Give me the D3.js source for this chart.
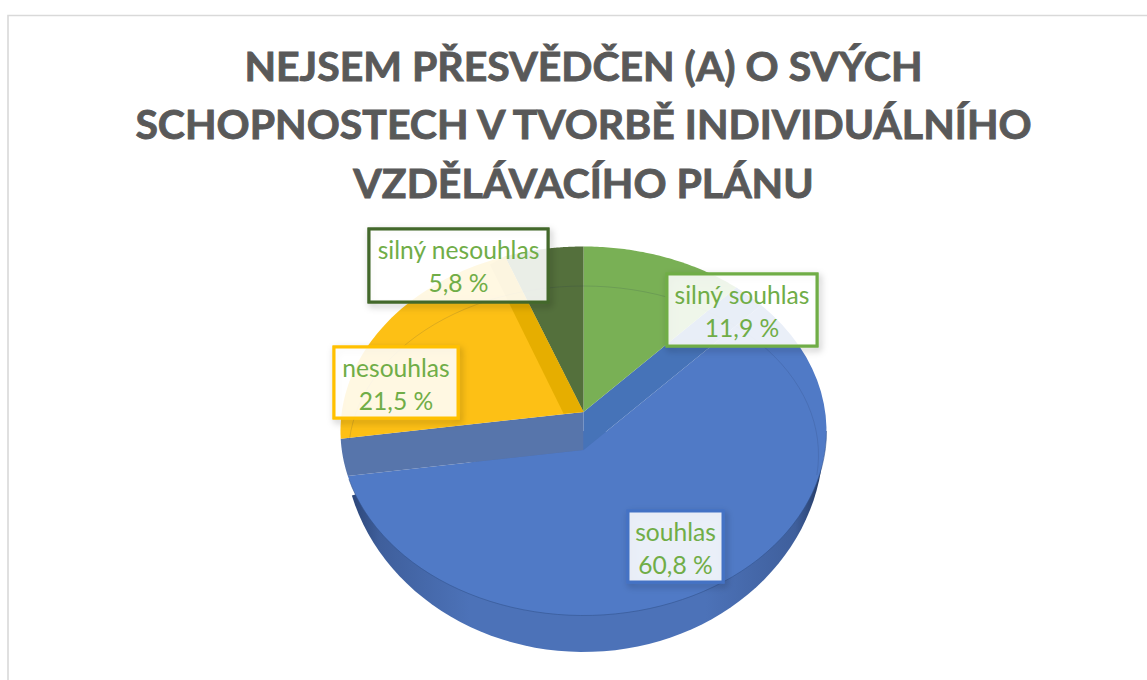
<!DOCTYPE html>
<html lang="cs">
<head>
    <meta charset="UTF-8">
    <title>Nejsem přesvědčen (a)</title>
    <script src="https://d3js.org/d3.v7.min.js"></script>
    <style>
        html, body { margin: 0; background: #fff; }
        svg { display: block; }
        text { font-family: Lato, "Open Sans", sans-serif; }
        .title { font-size: 41px; font-weight: 700; fill: #595959; stroke: #595959; stroke-width: 0.9px; text-anchor: middle; }
        .label { font-size: 24.6px; fill: #70ad47; text-anchor: middle; }
    </style>
</head>
<body>
    <div id="chart"></div>
    <script>
        const titleLines = ["NEJSEM PŘESVĚDČEN (A) O SVÝCH", "SCHOPNOSTECH V TVORBĚ INDIVIDUÁLNÍHO", "VZDĚLÁVACÍHO PLÁNU"];
        const categories = ["silný souhlas", "souhlas", "nesouhlas", "silný nesouhlas"];
        const values = [11.9, 60.8, 21.5, 5.8];

        const sliceColors = ["#79b055", "#507ac6", "#fdc015", "#54703c"];
        const borderColors = ["#70ad47", "#4472c4", "#ffc000", "#43682b"];
        // label boxes, placed by hand: x0, y0, x1, y1
        const labelBoxes = [[667, 274, 817, 346], [628, 511, 723, 582], [334, 347, 458, 418], [369, 229, 548, 302]];

        const width = 1147, height = 680;
        const svg = d3.select("#chart").append("svg").attr("width", width).attr("height", height);

        const defs = svg.append("defs");
        const wallGradient = defs.append("linearGradient").attr("id", "wall");
        [[0, "#2c4678"], [0.06, "#3f5f9c"], [0.25, "#4c72b8"], [0.75, "#4c72b8"], [0.94, "#3f5f9c"], [1, "#22365e"]]
            .forEach(s => wallGradient.append("stop").attr("offset", s[0]).attr("stop-color", s[1]));
        const shadow = defs.append("filter").attr("id", "shadow")
            .attr("x", "-20%").attr("y", "-20%").attr("width", "140%").attr("height", "150%");
        shadow.append("feDropShadow").attr("dx", 2).attr("dy", 3).attr("stdDeviation", 3.5)
            .attr("flood-color", "#000").attr("flood-opacity", 0.3);

        // chart frame
        svg.append("path").attr("d", `M8,${height}V15.5H${width}`)
            .attr("fill", "none").attr("stroke", "#d9d9d9").attr("stroke-width", 1.6);

        svg.selectAll(".title").data(titleLines).join("text")
            .attr("class", "title")
            .attr("x", 583.5)
            .attr("y", (d, i) => 80.7 + i * 58.5)
            .text(d => d);

        const slices = d3.pie().sort(null).value(d => d)(values);

        // circle seen in perspective: an ellipse whose pie centre sits off its middle
        const cx = 583.5, cy = 431, rx = 243, ry = 184.5;
        const upper = 19 / ry, lower = -19 / ry;

        function project(angle, k, e) {
            e = e || { cx, cy, rx, ry };
            const u = Math.sin(angle), v = Math.cos(angle), q = 1 + k * v;
            return [e.cx + e.rx * Math.sqrt(1 - k * k) * u / q, e.cy - e.ry * (v + k) / q];
        }

        const line = d3.line();
        function rimPoints(a0, a1, k, e) {
            return d3.range(0, 61).map(i => project(a0 + (a1 - a0) * i / 60, k, e));
        }
        function apex(k) {
            return [cx, cy - ry * k];
        }
        function sectorPath(a0, a1, k) {
            return line([apex(k), ...rimPoints(a0, a1, k)]) + "Z";
        }
        // rim angle (plain ellipse) of a projected point
        function rimAngle(p) {
            return Math.atan2((p[0] - cx) / rx, (cy - p[1]) / ry);
        }
        function rimBetween(p0, p1) {
            const a0 = rimAngle(p0);
            let a1 = rimAngle(p1);
            if (a1 - a0 > Math.PI) a1 -= 2 * Math.PI;
            if (a0 - a1 > Math.PI) a1 += 2 * Math.PI;
            return rimPoints(a0, a1, 0);
        }

        const blue = slices[1];

        // outer wall below the blue slice
        const wallEllipse = { cx: 583.5, cy: 440, rx: 240, ry: 212 };
        svg.append("path")
            .attr("d", line([...rimPoints(Math.PI / 2, blue.endAngle - 0.12, 0, wallEllipse), [cx, cy]]) + "Z")
            .attr("fill", "url(#wall)");

        // top face of the blue slice
        svg.append("path")
            .attr("d", sectorPath(blue.startAngle, blue.endAngle, lower))
            .attr("fill", sliceColors[1]);
        // thin edge between top face and wall
        svg.append("path")
            .attr("d", line(rimPoints(Math.PI / 2, blue.endAngle - 0.12, 0)))
            .attr("fill", "none").attr("stroke", "#34558f").attr("stroke-opacity", 0.6).attr("stroke-width", 1);

        // the inner walls between the two pie centres
        const bandLeft = [apex(upper), ...rimBetween(project(blue.endAngle, upper), project(blue.endAngle, lower)), apex(lower)];
        const bandRight = [apex(upper), ...rimBetween(project(blue.startAngle, upper), project(blue.startAngle, lower)), apex(lower)];
        svg.append("path").attr("d", line(bandLeft) + "Z").attr("fill", "#5775ab");
        svg.append("path").attr("d", line(bandRight) + "Z").attr("fill", "#4673b8");

        [0, 2, 3].forEach(i => {
            svg.append("path")
                .attr("d", sectorPath(slices[i].startAngle, slices[i].endAngle, upper))
                .attr("fill", sliceColors[i]);
        });

        // darker strip on the yellow slice, next to the dark green one
        const yellowEnd = project(slices[2].endAngle, upper);
        svg.append("path")
            .attr("d", line([apex(upper), [cx - 20, apex(upper)[1] + 1.5], [yellowEnd[0] - 15, yellowEnd[1] + 8], yellowEnd]) + "Z")
            .attr("fill", "#e6ae00");

        // faint floor line seen through the top
        const floor = { cx: 583.5, cy: 455, rx: 235, ry: 169 };
        svg.append("path")
            .attr("d", line(rimPoints(-1.48, 1.69, 0, floor)))
            .attr("fill", "none").attr("stroke", "#1f2d4d").attr("stroke-opacity", 0.14).attr("stroke-width", 1);

        // labels
        const labels = svg.selectAll(".box").data(categories).join("g").attr("class", "box");
        labels.append("rect")
            .attr("x", (d, i) => labelBoxes[i][0]).attr("y", (d, i) => labelBoxes[i][1])
            .attr("width", (d, i) => labelBoxes[i][2] - labelBoxes[i][0])
            .attr("height", (d, i) => labelBoxes[i][3] - labelBoxes[i][1])
            .attr("fill", "none")
            .attr("stroke", (d, i) => borderColors[i]).attr("stroke-width", 3)
            .attr("filter", "url(#shadow)");
        labels.append("rect")
            .attr("x", (d, i) => labelBoxes[i][0]).attr("y", (d, i) => labelBoxes[i][1])
            .attr("width", (d, i) => labelBoxes[i][2] - labelBoxes[i][0])
            .attr("height", (d, i) => labelBoxes[i][3] - labelBoxes[i][1])
            .attr("fill", "#fff").attr("fill-opacity", 0.88)
            .attr("stroke", (d, i) => borderColors[i]).attr("stroke-width", 3);
        labels.append("text").attr("class", "label")
            .attr("x", (d, i) => (labelBoxes[i][0] + labelBoxes[i][2]) / 2)
            .attr("y", (d, i) => labelBoxes[i][1] + 29.5)
            .text(d => d);
        labels.append("text").attr("class", "label")
            .attr("x", (d, i) => (labelBoxes[i][0] + labelBoxes[i][2]) / 2)
            .attr("y", (d, i) => labelBoxes[i][1] + 62.5)
            .text((d, i) => d3.format(".1f")(values[i]).replace(".", ",") + " %");
    </script>
</body>
</html>
